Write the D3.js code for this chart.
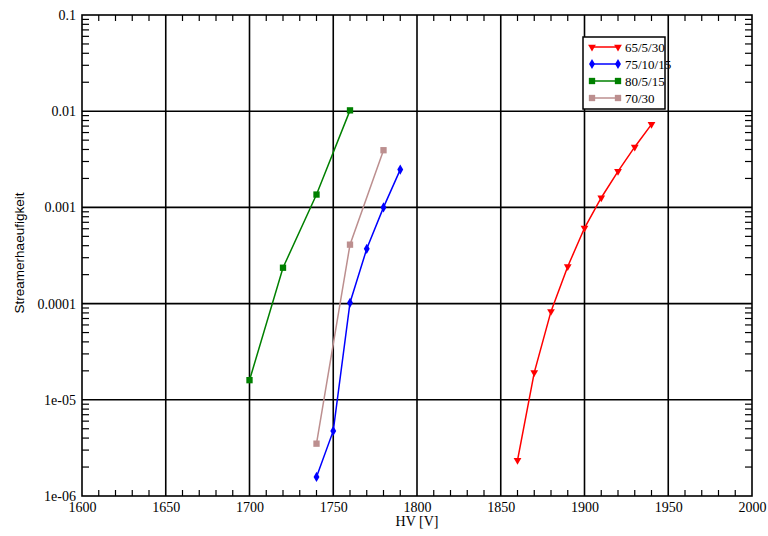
<!DOCTYPE html>
<html><head><meta charset="utf-8">
<script src="https://cdn.jsdelivr.net/npm/d3@7"></script>
<style>body{margin:0;background:#fff}svg{display:block}</style>
</head><body>
<svg id="c" width="768" height="536"></svg>
<script>
const seriesNames = ["65/5/30", "75/10/15", "80/5/15", "70/30"];
const seriesColors = ["#ff0000", "#0000ff", "#008000", "#bc8f8f"];
const seriesSymbols = ["triangleDown", "diamond", "square", "square"];
const hvRed = [1860, 1870, 1880, 1890, 1900, 1910, 1920, 1930, 1940];
const valRed = [2.35e-6, 1.92e-5, 8.3e-5, 2.43e-4, 6.1e-4, 1.26e-3, 2.37e-3, 4.25e-3, 7.3e-3];
const hvBlue = [1740, 1750, 1760, 1770, 1780, 1790];
const valBlue = [1.58e-6, 4.75e-6, 1.02e-4, 3.71e-4, 1.0e-3, 2.47e-3];
const hvGreen = [1700, 1720, 1740, 1760];
const valGreen = [1.6e-5, 2.36e-4, 1.36e-3, 1.02e-2];
const hvBrown = [1740, 1760, 1780];
const valBrown = [3.5e-6, 4.1e-4, 3.93e-3];
const xTicks = [1600, 1650, 1700, 1750, 1800, 1850, 1900, 1950, 2000];
const yTicks = [1e-6, 1e-5, 1e-4, 1e-3, 1e-2, 1e-1];
const yTickLabels = ["1e-06", "1e-05", "0.0001", "0.001", "0.01", "0.1"];
const xLabel = "HV [V]";
const yLabel = "Streamerhaeufigkeit";

const L = 82, R = 752, T = 15, B = 496;
const x = d3.scaleLinear().domain([1600, 2000]).range([L, R]);
const y = d3.scaleLog().domain([1e-6, 0.1]).range([B, T]);
const svg = d3.select("#c");
const serif = "'Liberation Serif', 'Times New Roman', serif";

// grid
const g = svg.append("g").attr("stroke", "#000").attr("stroke-width", 1.6);
xTicks.slice(1, -1).forEach(v => g.append("line").attr("x1", x(v)).attr("x2", x(v)).attr("y1", T).attr("y2", B));
yTicks.slice(1, -1).forEach(v => g.append("line").attr("y1", y(v)).attr("y2", y(v)).attr("x1", L).attr("x2", R));

// minor ticks
const mt = svg.append("g").attr("stroke", "#000").attr("stroke-width", 1.2);
d3.range(1600, 2001, 10).filter(v => v % 50 !== 0).forEach(v => {
  mt.append("line").attr("x1", x(v)).attr("x2", x(v)).attr("y1", B).attr("y2", B - 6);
  mt.append("line").attr("x1", x(v)).attr("x2", x(v)).attr("y1", T).attr("y2", T + 6);
});
yTicks.slice(0, -1).forEach(d => {
  for (let k = 2; k <= 9; k++) {
    const yy = y(d * k);
    mt.append("line").attr("x1", L).attr("x2", L + 7).attr("y1", yy).attr("y2", yy);
    mt.append("line").attr("x1", R).attr("x2", R - 7).attr("y1", yy).attr("y2", yy);
  }
});

// frame
svg.append("rect").attr("x", L).attr("y", T).attr("width", R - L).attr("height", B - T)
  .attr("fill", "none").attr("stroke", "#000").attr("stroke-width", 1.6);

// axes labels
const xAxis = d3.axisBottom(x).tickValues(xTicks).tickSize(0).tickPadding(6).tickFormat(d3.format("d"));
const xa = svg.append("g").attr("transform", `translate(0,${B})`).call(xAxis);
xa.select(".domain").remove();
xa.selectAll("text").attr("font-family", serif).attr("font-size", 14).attr("fill", "#000");
const yAxis = d3.axisLeft(y).tickValues(yTicks).tickSize(0).tickPadding(6).tickFormat((d, i) => yTickLabels[i]);
const ya = svg.append("g").attr("transform", `translate(${L},0)`).call(yAxis);
ya.select(".domain").remove();
ya.selectAll("text").attr("font-family", serif).attr("font-size", 14).attr("fill", "#000");

svg.append("text").attr("x", (L + R) / 2).attr("y", 526).attr("text-anchor", "middle")
  .attr("font-family", serif).attr("font-size", 14).text(xLabel);
svg.append("text").attr("transform", "translate(24,253) rotate(-90)").attr("text-anchor", "middle")
  .attr("font-family", "'Liberation Sans', Arial, sans-serif").attr("font-size", 13.5).text(yLabel);

// series
const series = [
  {hv: hvRed, val: valRed},
  {hv: hvBlue, val: valBlue},
  {hv: hvGreen, val: valGreen},
  {hv: hvBrown, val: valBrown}
];
function sym(name) {
  if (name === "triangleDown") return d3.symbol(d3.symbolTriangle, 26)();
  if (name === "diamond") return d3.symbol(d3.symbolDiamond, 30)();
  return d3.symbol(d3.symbolSquare, 40)();
}
function symT(name, px, py) {
  return name === "triangleDown" ? `translate(${px},${py}) rotate(180)` : `translate(${px},${py})`;
}
const line = d3.line().x(d => x(d[0])).y(d => y(d[1]));
series.forEach((s, i) => {
  const pts = s.hv.map((h, j) => [h, s.val[j]]);
  svg.append("path").attr("d", line(pts)).attr("fill", "none").attr("stroke", seriesColors[i]).attr("stroke-width", 1.5);
  svg.selectAll(null).data(pts).enter().append("path")
    .attr("d", sym(seriesSymbols[i])).attr("transform", d => symT(seriesSymbols[i], x(d[0]), y(d[1])))
    .attr("fill", seriesColors[i]);
});

// legend
const lg = svg.append("g");
lg.append("rect").attr("x", 583).attr("y", 37).attr("width", 82).attr("height", 72)
  .attr("fill", "#fff").attr("stroke", "#000").attr("stroke-width", 1.5);
seriesNames.forEach((n, i) => {
  const yy = 47 + i * 17;
  lg.append("line").attr("x1", 592).attr("x2", 618).attr("y1", yy).attr("y2", yy)
    .attr("stroke", seriesColors[i]).attr("stroke-width", 1.5);
  [592, 618].forEach(px => lg.append("path").attr("d", sym(seriesSymbols[i]))
    .attr("transform", symT(seriesSymbols[i], px, yy)).attr("fill", seriesColors[i]));
  lg.append("text").attr("x", 625).attr("y", yy).attr("dy", "0.35em")
    .attr("font-family", serif).attr("font-size", 13).text(n);
});
</script>
</body></html>
